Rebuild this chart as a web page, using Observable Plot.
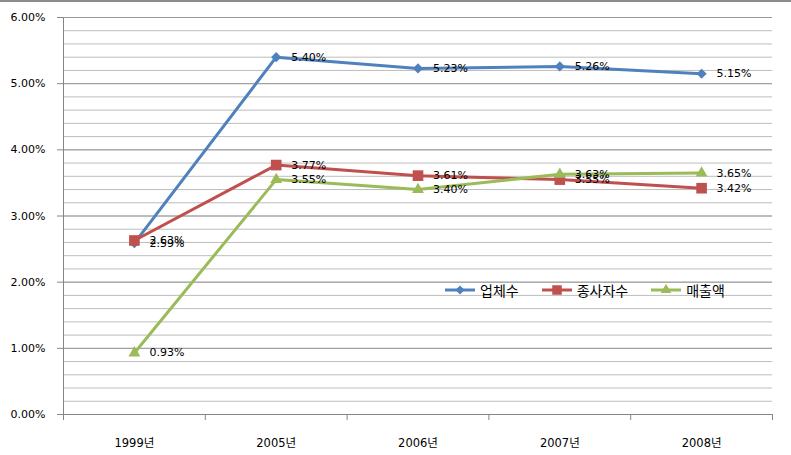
<!DOCTYPE html>
<html>
<head>
<meta charset="utf-8">
<script src="https://cdn.jsdelivr.net/npm/d3@7"></script>
<script src="https://cdn.jsdelivr.net/npm/@observablehq/plot@0.6"></script>
<style>
  html, body { margin: 0; padding: 0; background: #fff; }
  #wrap { position: relative; width: 791px; height: 455px; overflow: hidden; font-family: "DejaVu Sans", "Noto Sans CJK KR", sans-serif; }
  #wrap .topline { position: absolute; left: 0; top: 0; width: 791px; height: 2px; background: #8c8c8c; }
  #legend { position: absolute; left: 443px; top: 283px; display: flex; align-items: center; font-family: "Noto Sans CJK KR", sans-serif; font-size: 14px; line-height: 14px; color: #000; }
  #legend .item { display: flex; align-items: center; margin-right: 21px; }
  #legend svg { display: block; margin-right: 3px; }
</style>
</head>
<body>
<div id="wrap"><div id="chart"></div><div class="topline"></div><div id="legend"></div></div>
<script>
const categories = ["1999년", "2005년", "2006년", "2007년", "2008년"];
const seriesNames = ["업체수", "종사자수", "매출액"];
const companies = [2.59, 5.40, 5.23, 5.26, 5.15];
const employees = [2.63, 3.77, 3.61, 3.55, 3.42];
const sales = [0.93, 3.55, 3.40, 3.63, 3.65];
const yTicks = [0, 1, 2, 3, 4, 5, 6];
const colors = ["#4F81BD", "#C0504D", "#9BBB59"];
const symbols = ["diamond2", "square", "triangle"];
const radii = [4.6, 6.0, 4.4];

const valuesBySeries = [companies, employees, sales];
const data = [];
valuesBySeries.forEach((vals, s) => vals.forEach((v, i) => data.push({series: seriesNames[s], s, i, v})));

const minorTicks = d3.range(0, 31).map(k => k * 0.2);
const bounds = d3.range(0, categories.length + 1).map(k => k - 0.5);
const fmt = v => v.toFixed(2) + "%";

const marks = [
  Plot.ruleY(minorTicks.filter(t => t > 0), {stroke: "#bdbdbd", strokeWidth: 1}),
  Plot.ruleY(yTicks.filter(t => t > 0), {stroke: "#9a9a9a", strokeWidth: 1}),
  Plot.ruleX([-0.5], {y1: 0, y2: 6, stroke: "#868686", strokeWidth: 1}),
  Plot.ruleY([0], {stroke: "#868686", strokeWidth: 1}),
  Plot.axisY({ticks: yTicks, tickFormat: fmt, tickSize: 6, tickPadding: 12, stroke: "#868686", fontSize: 11, fill: "#000", label: null}),
  Plot.axisX({ticks: bounds, tickFormat: () => "", tickSize: 6, stroke: "#868686", label: null}),
  Plot.axisX({ticks: d3.range(categories.length), tickFormat: i => categories[i], tickSize: 0, tickPadding: 24, fontSize: 11.5, fill: "#000", label: null})
];
seriesNames.forEach((name, s) => {
  const d = data.filter(r => r.s === s);
  marks.push(Plot.line(d, {x: "i", y: "v", stroke: colors[s], strokeWidth: 3}));
  marks.push(Plot.dot(d, {x: "i", y: "v", symbol: () => symbols[s], fill: colors[s], stroke: "none", r: radii[s]}));
});
seriesNames.forEach((name, s) => {
  const d = data.filter(r => r.s === s);
  marks.push(Plot.text(d, {x: "i", y: "v", text: r => fmt(r.v), dx: 15, textAnchor: "start", fontSize: 11, fill: "#000"}));
});

const chart = Plot.plot({
  width: 791,
  height: 455,
  marginLeft: 63,
  marginRight: 19,
  marginTop: 17,
  marginBottom: 41,
  style: {background: "#fff", fontFamily: "'DejaVu Sans', 'Noto Sans CJK KR', sans-serif"},
  x: {type: "linear", domain: [-0.5, categories.length - 0.5], axis: null},
  y: {domain: [0, 6], axis: null},
  marks
});
document.getElementById("chart").appendChild(chart);

// legend
const legend = document.getElementById("legend");
seriesNames.forEach((name, s) => {
  const item = document.createElement("div");
  item.className = "item";
  const svg = d3.create("svg").attr("width", 34).attr("height", 12);
  svg.append("line").attr("x1", 2).attr("x2", 32).attr("y1", 6).attr("y2", 6).attr("stroke", colors[s]).attr("stroke-width", 3);
  const sym = {diamond2: d3.symbolDiamond2, square: d3.symbolSquare, triangle: d3.symbolTriangle}[symbols[s]];
  svg.append("path").attr("transform", "translate(17,6)").attr("d", d3.symbol(sym, Math.PI * radii[s] * radii[s] * 0.8)()).attr("fill", colors[s]);
  item.appendChild(svg.node());
  const t = document.createElement("span");
  t.textContent = name;
  item.appendChild(t);
  legend.appendChild(item);
});
</script>
</body>
</html>
